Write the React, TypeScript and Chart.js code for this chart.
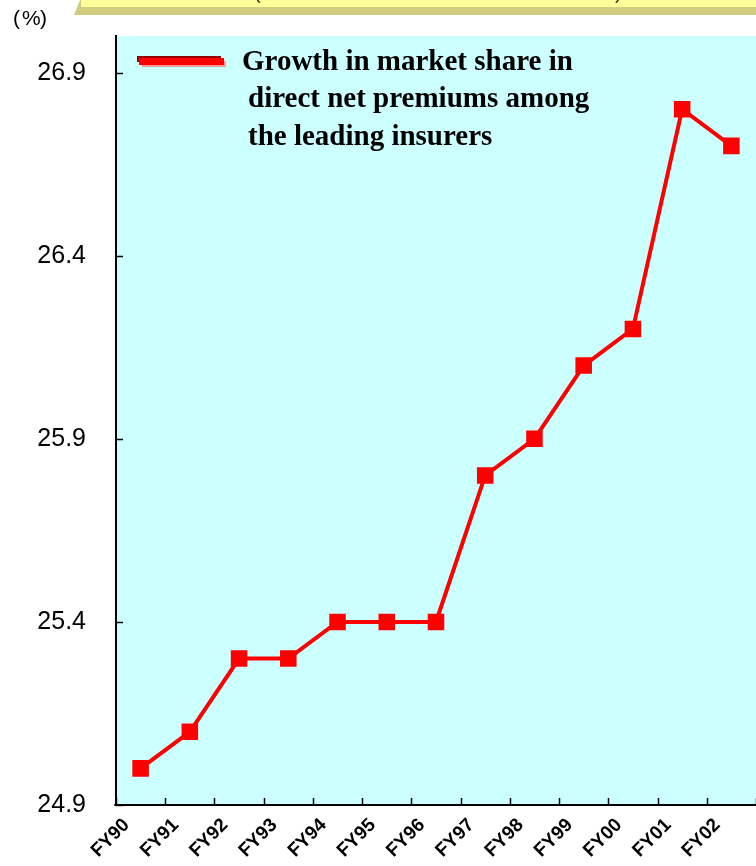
import React, { useEffect, useRef } from "react";
import { Chart, registerables } from "chart.js";

Chart.register(...registerables);

// Fiscal years and market share (%) of the leading insurers
const categories = ["FY90", "FY91", "FY92", "FY93", "FY94", "FY95", "FY96", "FY97", "FY98", "FY99", "FY00", "FY01", "FY02"];
const marketShare = [25.0, 25.1, 25.3, 25.3, 25.4, 25.4, 25.4, 25.8, 25.9, 26.1, 26.2, 26.8, 26.7];
const yTickValues = [24.9, 25.4, 25.9, 26.4, 26.9];
const yTickLabels = ["24.9", "25.4", "25.9", "26.4", "26.9"];
const yMin = 24.9;
const yMax = 27.0;
const legendLines = ["Growth in market share in", "direct net premiums among", "the leading insurers"];
const unitLabel = "%";

const W = 756;
const H = 866;

const decorPlugin = {
  id: "decor",
  beforeDraw(chart: any) {
    const { ctx, chartArea } = chart;
    ctx.save();
    // page background
    ctx.fillStyle = "#ffffff";
    ctx.fillRect(0, 0, W, H);
    // plot background
    ctx.fillStyle = "#CCFFFF";
    ctx.fillRect(chartArea.left, chartArea.top, chartArea.right - chartArea.left, chartArea.bottom - chartArea.top);

    // title banner strip along the top edge
    ctx.fillStyle = "#D0CD80";
    ctx.beginPath();
    ctx.moveTo(80, 0);
    ctx.lineTo(W, 0);
    ctx.lineTo(W, 15);
    ctx.lineTo(74, 15);
    ctx.closePath();
    ctx.fill();
    ctx.fillStyle = "#FFFF99";
    ctx.fillRect(81, 0, W - 81, 7);
    ctx.fillStyle = "#333333";
    ctx.font = '20px "Liberation Sans", Arial, sans-serif';
    ctx.textBaseline = "alphabetic";
    ctx.textAlign = "left";
    ctx.fillText("(", 254, -1);
    ctx.fillText(")", 615, -1);

    // unit label
    ctx.fillStyle = "#000000";
    ctx.font = '21px "Liberation Sans", Arial, sans-serif';
    ctx.textBaseline = "middle";
    ctx.textAlign = "left";
    ctx.fillText("(", 13, 19);
    ctx.fillText(unitLabel, 22, 19);
    ctx.fillText(")", 40, 19);
    ctx.restore();
  },
  afterDraw(chart: any) {
    const { ctx, chartArea } = chart;
    const xs = chart.scales.x;
    const ys = chart.scales.y;
    ctx.save();
    ctx.strokeStyle = "#000000";
    ctx.lineWidth = 1.5;
    // inward ticks on the value axis
    ys.ticks.forEach((t: any) => {
      const py = Math.round(ys.getPixelForValue(t.value)) + 0.5;
      ctx.beginPath();
      ctx.moveTo(chartArea.left, py);
      ctx.lineTo(chartArea.left + 7, py);
      ctx.stroke();
    });
    // inward ticks between categories
    const step = xs.getPixelForValue(1) - xs.getPixelForValue(0);
    for (let i = 0; i <= categories.length; i++) {
      const px = Math.round(xs.getPixelForValue(0) - step / 2 + i * step) + 0.5;
      ctx.beginPath();
      ctx.moveTo(px, chartArea.bottom);
      ctx.lineTo(px, chartArea.bottom - 7);
      ctx.stroke();
    }
    // small stub left of the origin
    ctx.beginPath();
    ctx.moveTo(chartArea.left - 2, chartArea.bottom);
    ctx.lineTo(chartArea.left, chartArea.bottom);
    ctx.stroke();

    // legend key with a bevelled line
    ctx.fillStyle = "#FF9999";
    ctx.fillRect(142, 61, 84, 6);
    ctx.fillStyle = "#990000";
    ctx.fillRect(137, 56, 84, 6);
    ctx.fillStyle = "#FF0000";
    ctx.fillRect(139, 58, 85, 7);

    // legend text
    ctx.fillStyle = "#000000";
    ctx.font = 'bold 29px "Liberation Serif", "Times New Roman", serif';
    ctx.textAlign = "left";
    ctx.textBaseline = "alphabetic";
    ctx.fillText(legendLines[0], 242, 70);
    ctx.fillText(legendLines[1], 248, 107);
    ctx.fillText(legendLines[2], 248, 145);
    ctx.restore();
  },
};

export default function App() {
  const ref = useRef<HTMLCanvasElement | null>(null);

  useEffect(() => {
    if (!ref.current) return;
    const chart = new Chart(ref.current, {
      type: "line",
      data: {
        labels: categories,
        datasets: [
          {
            label: legendLines.join(" "),
            data: marketShare,
            borderColor: "#FF0000",
            backgroundColor: "#FF0000",
            borderWidth: 4,
            pointStyle: "rect",
            pointRadius: 11.7,
            pointBorderWidth: 0,
            pointBackgroundColor: "#FF0000",
            tension: 0,
          },
        ],
      },
      options: {
        responsive: false,
        devicePixelRatio: 1,
        animation: false,
        layout: { autoPadding: false, padding: { top: 36, right: 0, left: 0, bottom: 0 } },
        plugins: {
          legend: { display: false },
          title: { display: false },
          tooltip: { enabled: false },
        },
        scales: {
          x: {
            type: "category",
            offset: true,
            grid: { display: true, offset: true, drawOnChartArea: false, drawTicks: false },
            border: { display: true, color: "#000000", width: 2 },
            ticks: {
              autoSkip: false,
              minRotation: 45,
              maxRotation: 45,
              padding: 9,
              labelOffset: -14,
              color: "#000000",
              font: { family: '"Liberation Sans", Arial, sans-serif', size: 19, weight: "bold" },
            },
            afterFit(scale: any) {
              scale.height = 61;
              scale.paddingLeft = 0;
              scale.paddingRight = 0;
            },
          },
          y: {
            type: "linear",
            min: yMin,
            max: yMax,
            grid: { display: true, drawOnChartArea: false, drawTicks: false },
            border: { display: true, color: "#000000", width: 2 },
            afterBuildTicks(scale: any) {
              scale.ticks = yTickValues.map((v) => ({ value: v }));
            },
            ticks: {
              padding: 30,
              color: "#000000",
              font: { family: '"Liberation Sans", Arial, sans-serif', size: 25 },
              callback: (value: any) => {
                const i = yTickValues.findIndex((v) => Math.abs(v - Number(value)) < 1e-6);
                return i >= 0 ? yTickLabels[i] : "";
              },
            },
            afterFit(scale: any) {
              scale.width = 116;
              scale.paddingTop = 0;
              scale.paddingBottom = 0;
            },
          },
        },
      },
      plugins: [decorPlugin],
    });
    return () => chart.destroy();
  }, []);

  return (
    <div style={{ position: "absolute", left: 0, top: 0, width: W, height: H, background: "#ffffff" }}>
      <canvas ref={ref} width={W} height={H} style={{ display: "block", width: W, height: H }} />
    </div>
  );
}
